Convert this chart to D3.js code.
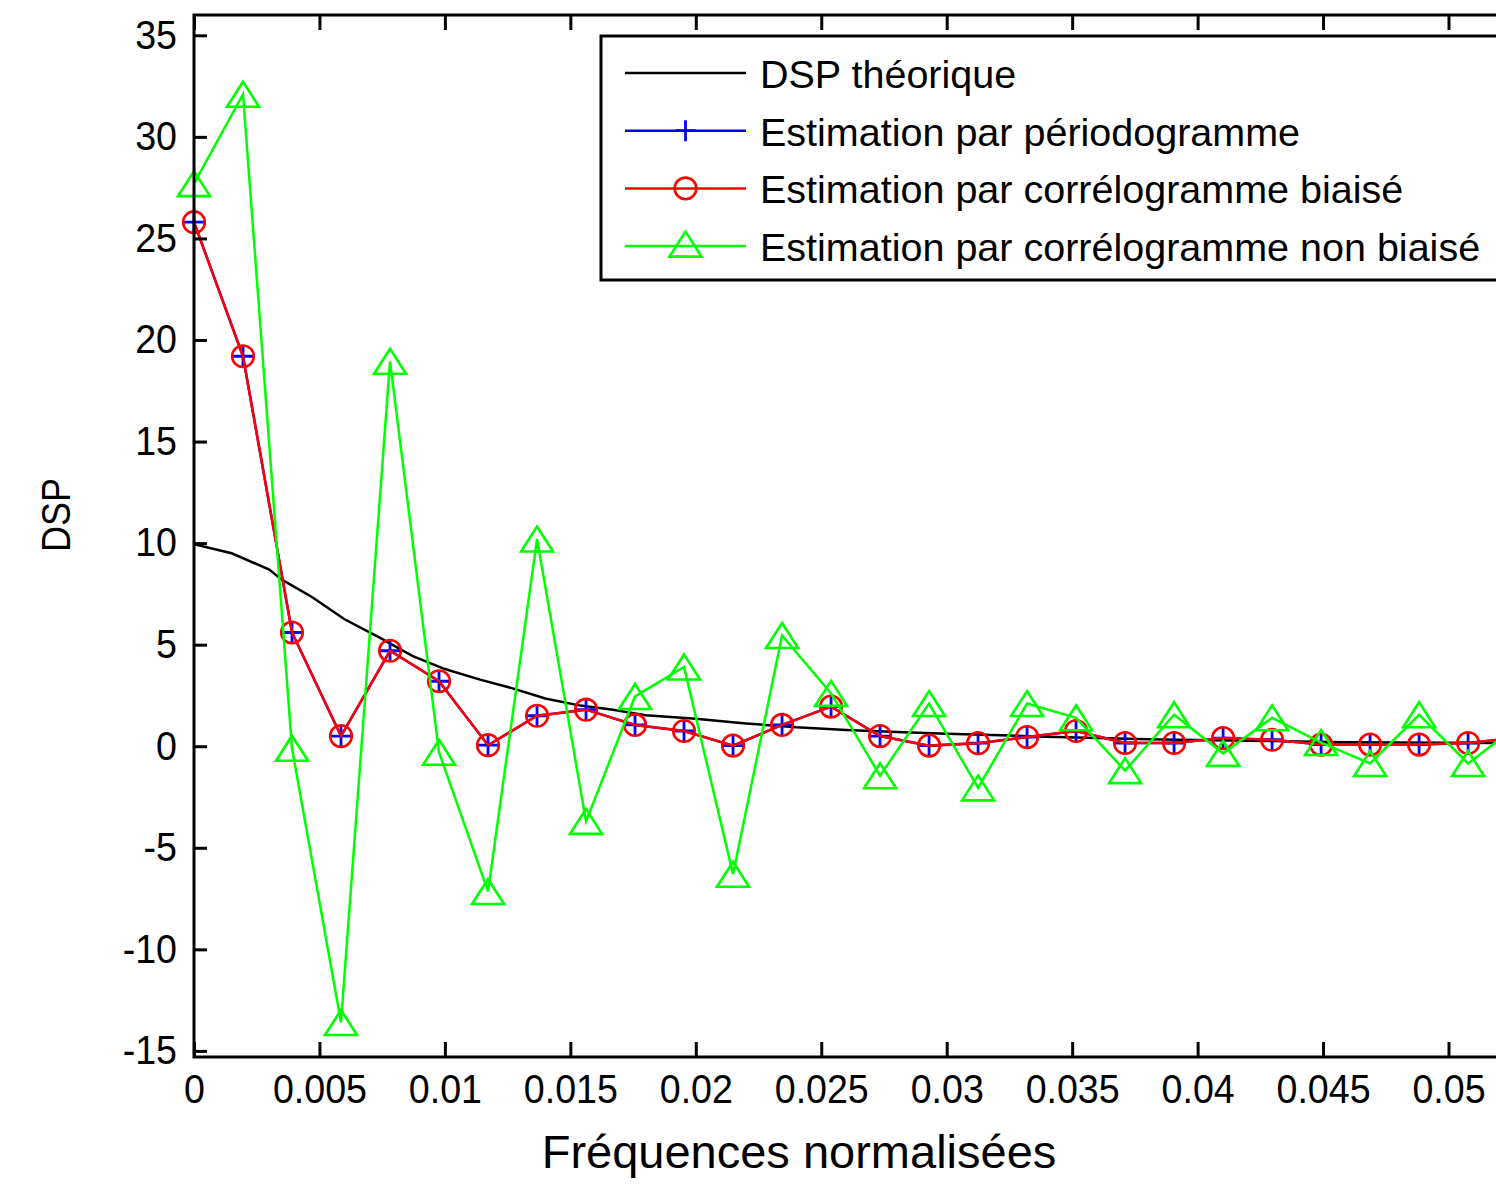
<!DOCTYPE html>
<html>
<head>
<meta charset="utf-8">
<script src="https://cdn.jsdelivr.net/npm/d3@7"></script>
<style>
  html, body { margin: 0; padding: 0; background: #fff; }
  svg { display: block; }
  text { font-family: "Liberation Sans", Arial, Helvetica, sans-serif; fill: #000; }
</style>
</head>
<body>
<svg id="chart" width="1496" height="1184"></svg>
<script>
// Normalised frequency grid (k / 512) of the spectral estimates
const freqs = [0, 0.001953, 0.003906, 0.005859, 0.007813, 0.009766, 0.011719, 0.013672,
  0.015625, 0.017578, 0.019531, 0.021484, 0.023438, 0.025391, 0.027344, 0.029297,
  0.03125, 0.033203, 0.035156, 0.037109, 0.039063, 0.041016, 0.042969, 0.044922,
  0.046875, 0.048828, 0.050781, 0.052734];

// Periodogram estimate
const dspPeriodogram = [25.8, 19.2, 5.6, 0.5, 4.7, 3.2, 0.05, 1.5,
  1.8, 1.05, 0.75, 0.03, 1.05, 1.95, 0.5, 0.03,
  0.15, 0.45, 0.75, 0.16, 0.16, 0.4, 0.32, 0.08,
  0.08, 0.08, 0.16, 0.42];

// Biased correlogram estimate
const dspCorrBiased = [25.8, 19.2, 5.6, 0.5, 4.7, 3.2, 0.05, 1.5,
  1.8, 1.05, 0.75, 0.03, 1.05, 1.95, 0.5, 0.03,
  0.15, 0.45, 0.75, 0.16, 0.16, 0.4, 0.32, 0.08,
  0.08, 0.08, 0.16, 0.42];

// Unbiased correlogram estimate
const dspCorrUnbiased = [27.7, 32.1, -0.1, -13.6, 18.95, -0.3, -7.15, 10.2,
  -3.7, 2.45, 3.9, -6.3, 5.45, 2.6, -1.45, 2.1,
  -2.05, 2.1, 1.4, -1.2, 1.55, -0.35, 1.4, 0.18,
  -0.85, 1.55, -0.85, 1.0];

// Theoretical PSD, sampled along the curve
const freqsTheo = [0, 0.0015, 0.003, 0.0035, 0.0047, 0.006, 0.0074, 0.0087, 0.01, 0.0114,
  0.0127, 0.014, 0.0154, 0.0167, 0.018, 0.02, 0.022, 0.024, 0.026, 0.028, 0.03,
  0.034, 0.038, 0.042, 0.046, 0.052];
const dspTheo = [9.95, 9.5, 8.7, 8.2, 7.35, 6.25, 5.35, 4.45, 3.8, 3.28,
  2.85, 2.35, 2.0, 1.8, 1.52, 1.35, 1.12, 0.93, 0.8, 0.7, 0.62,
  0.47, 0.34, 0.27, 0.2, 0.16];

const xTicks = [0, 0.005, 0.01, 0.015, 0.02, 0.025, 0.03, 0.035, 0.04, 0.045, 0.05];
const xTickLabels = ["0", "0.005", "0.01", "0.015", "0.02", "0.025", "0.03", "0.035", "0.04", "0.045", "0.05"];
const yTicks = [-15, -10, -5, 0, 5, 10, 15, 20, 25, 30, 35];
const yTickLabels = ["-15", "-10", "-5", "0", "5", "10", "15", "20", "25", "30", "35"];

const legendLabels = [
  "DSP théorique",
  "Estimation par périodogramme",
  "Estimation par corrélogramme biaisé",
  "Estimation par corrélogramme non biaisé"
];
const seriesColors = ["#000000", "#0000ff", "#ff0000", "#00ff00"];

const svg = d3.select("#chart");

const plotLeft = 194, plotTop = 15, plotBottom = 1057;
const x = d3.scaleLinear().domain([0, 0.052]).range([plotLeft, plotLeft + 0.052 * 25090]);
const y = d3.scaleLinear().domain([-15.3, 36]).range([plotBottom, plotTop]);
const plotRight = x.range()[1];

svg.append("defs").append("clipPath").attr("id", "plotClip")
  .append("rect").attr("x", plotLeft).attr("y", plotTop)
  .attr("width", plotRight - plotLeft).attr("height", plotBottom - plotTop);

const lineWidth = 2.5;
const markerStroke = 2.6;

// Marker shapes
function drawPlus(g, cx, cy, color) {
  g.append("path")
    .attr("d", `M${cx - 10},${cy}H${cx + 10}M${cx},${cy - 10.5}V${cy + 10.5}`)
    .attr("stroke", color).attr("stroke-width", 2.8).attr("fill", "none");
}
function drawCircle(g, cx, cy, color) {
  g.append("circle").attr("cx", cx).attr("cy", cy).attr("r", 10.8)
    .attr("stroke", color).attr("stroke-width", markerStroke).attr("fill", "none");
}
function drawTriangle(g, cx, cy, color) {
  g.append("path")
    .attr("d", `M${cx},${cy - 12.5}L${cx + 16},${cy + 12.5}L${cx - 16},${cy + 12.5}Z`)
    .attr("stroke", color).attr("stroke-width", markerStroke).attr("fill", "none");
}

const lineGen = d3.line().x(d => x(d[0])).y(d => y(d[1]));
const plot = svg.append("g").attr("clip-path", "url(#plotClip)");

// Theoretical curve
plot.append("path")
  .datum(freqsTheo.map((f, i) => [f, dspTheo[i]]))
  .attr("d", lineGen).attr("fill", "none")
  .attr("stroke", seriesColors[0]).attr("stroke-width", lineWidth);

const estimates = [
  { values: dspPeriodogram, color: seriesColors[1], marker: drawPlus },
  { values: dspCorrBiased, color: seriesColors[2], marker: drawCircle },
  { values: dspCorrUnbiased, color: seriesColors[3], marker: drawTriangle }
];

estimates.forEach(s => {
  const pts = freqs.map((f, i) => [f, s.values[i]]);
  const g = svg.append("g");
  g.append("path").datum(pts).attr("d", lineGen)
    .attr("clip-path", "url(#plotClip)")
    .attr("fill", "none").attr("stroke", s.color).attr("stroke-width", lineWidth);
  pts.forEach(p => {
    if (x(p[0]) < 1510) s.marker(g, x(p[0]), y(p[1]), s.color);
  });
});

// Axes box
svg.append("rect").attr("x", plotLeft).attr("y", plotTop)
  .attr("width", plotRight - plotLeft).attr("height", plotBottom - plotTop)
  .attr("fill", "none").attr("stroke", "#000").attr("stroke-width", 3);

const tickFont = 40;
const bottomAxis = d3.axisBottom(x).tickValues(xTicks)
  .tickFormat((d, i) => xTickLabels[i]).tickSize(-15).tickSizeOuter(0).tickPadding(18);
const gb = svg.append("g").attr("transform", `translate(0,${plotBottom})`).call(bottomAxis);
gb.select(".domain").remove();
gb.selectAll(".tick line").attr("stroke", "#000").attr("stroke-width", 3);
gb.selectAll(".tick text").attr("font-size", tickFont)
  .attr("font-family", "Liberation Sans, Arial, sans-serif")
  .attr("transform", "scale(0.94,1)");

const topAxis = d3.axisTop(x).tickValues(xTicks).tickFormat("").tickSize(-15).tickSizeOuter(0);
const gt = svg.append("g").attr("transform", `translate(0,${plotTop})`).call(topAxis);
gt.select(".domain").remove();
gt.selectAll(".tick line").attr("stroke", "#000").attr("stroke-width", 3);

const leftAxis = d3.axisLeft(y).tickValues(yTicks)
  .tickFormat((d, i) => yTickLabels[i]).tickSize(-13).tickSizeOuter(0).tickPadding(17);
const gl = svg.append("g").attr("transform", `translate(${plotLeft},0)`).call(leftAxis);
gl.select(".domain").remove();
gl.selectAll(".tick line").attr("stroke", "#000").attr("stroke-width", 3);
gl.selectAll(".tick text").attr("font-size", tickFont)
  .attr("font-family", "Liberation Sans, Arial, sans-serif")
  .attr("x", -17 / 0.94)
  .attr("transform", "scale(0.94,1)");

// Axis titles
svg.append("text")
  .attr("transform", "translate(70,515) rotate(-90) scale(0.9,1)")
  .attr("text-anchor", "middle").attr("font-size", 40).text("DSP");

svg.append("text")
  .attr("x", 799).attr("y", 1168)
  .attr("text-anchor", "middle").attr("font-size", 47).text("Fréquences normalisées");

// Legend
const leg = svg.append("g");
leg.append("rect").attr("x", 601).attr("y", 36).attr("width", 1000).attr("height", 244)
  .attr("fill", "#fff").attr("stroke", "#000").attr("stroke-width", 3);
const legendMarkers = [null, drawPlus, drawCircle, drawTriangle];
legendLabels.forEach((lab, i) => {
  const ly = 73 + i * 57.7;
  leg.append("line").attr("x1", 625).attr("x2", 746).attr("y1", ly).attr("y2", ly)
    .attr("stroke", seriesColors[i]).attr("stroke-width", lineWidth);
  if (legendMarkers[i]) legendMarkers[i](leg, 685.5, i === 3 ? ly - 2 : ly, seriesColors[i]);
  leg.append("text").attr("x", 760).attr("y", ly + 15)
    .attr("font-size", 39.5).text(lab);
});
</script>
</body>
</html>
